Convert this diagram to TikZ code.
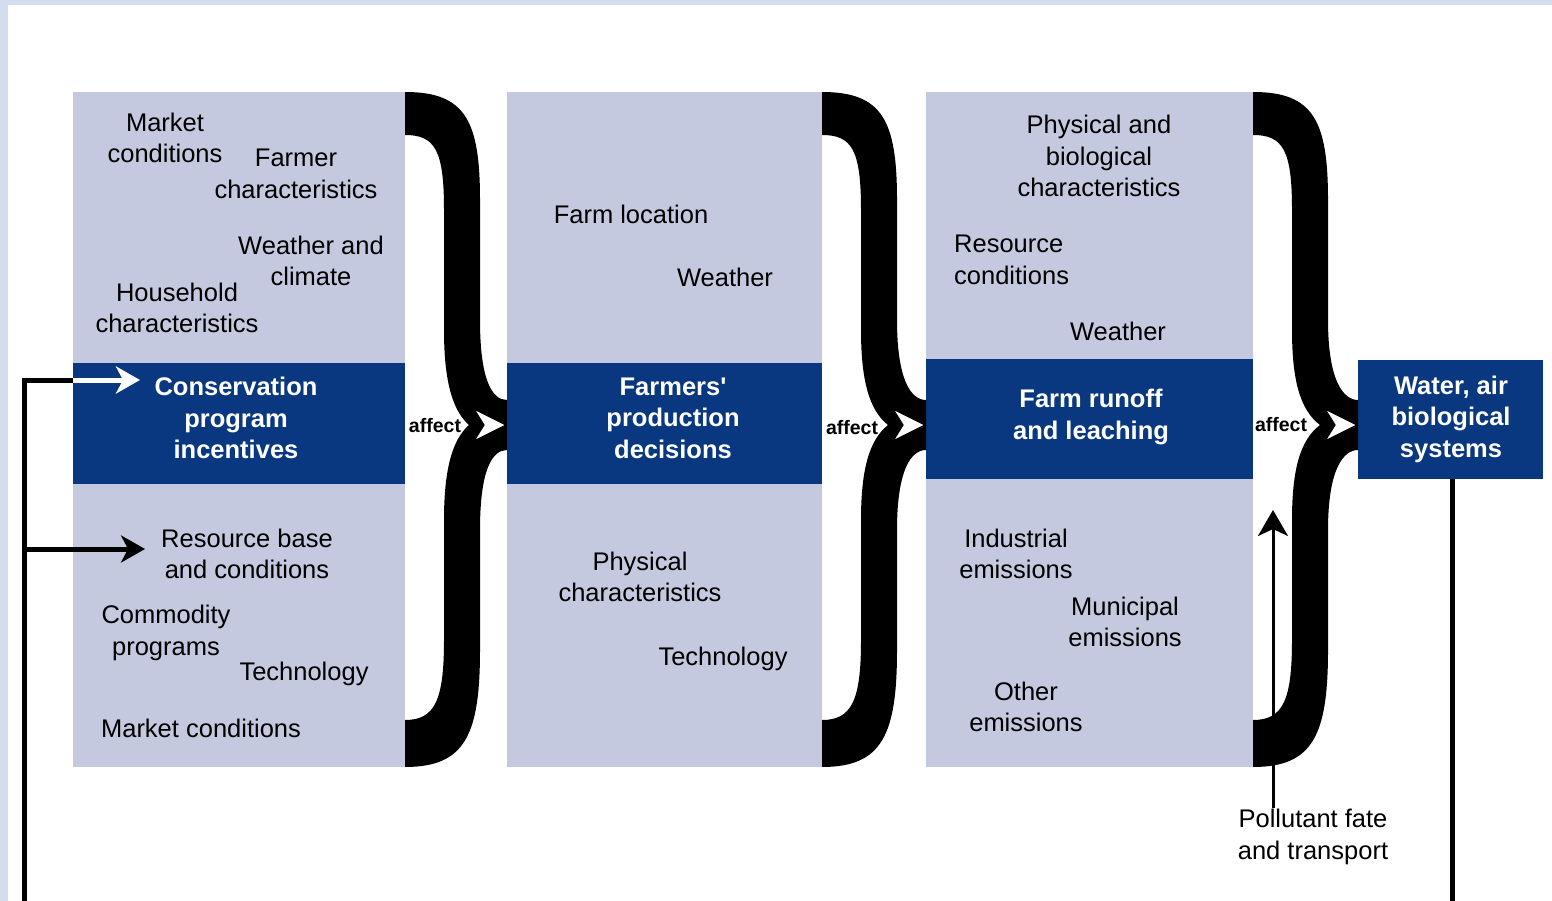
\documentclass[tikz,border=0pt]{standalone}
\usepackage{fontspec}
\setmainfont{Liberation Sans}
\newfontfamily\plainquote{Liberation Sans}[Ligatures=TeXOff]
\usepackage{tikz}
\usetikzlibrary{arrows.meta}
\definecolor{panelgray}{RGB}{196,201,223}
\definecolor{bandblue}{RGB}{10,56,128}
\definecolor{framebg}{RGB}{211,221,238}

\begin{document}
\begin{tikzpicture}[x=1pt,y=-1pt,
    panel/.style={fill=panelgray, inner sep=0pt, outer sep=0pt},
    band/.style={fill=bandblue, inner sep=0pt, outer sep=0pt},
    bandtxt/.style={text=white, align=center, inner sep=1pt,
                 font=\bfseries\fontsize{25.5}{31.5}\selectfont},
    lbl/.style={align=center, inner sep=1pt, font=\fontsize{25.5}{31.5}\selectfont},
    affectlbl/.style={inner sep=0pt, font=\bfseries\fontsize{19.5}{22}\selectfont},
    bracefill/.style={fill=black},
    tipwhite/.style={fill=white, draw=black, line width=1.2pt},
    fbline/.style={line width=5pt},
]
    \useasboundingbox (0,0) rectangle (1552,901);
    % Frame
    \fill[framebg] (0,0) rectangle (1552,901);
    \fill[white] (8,5) rectangle (1552,901);
    %
    % Panels
    \node[panel, minimum width=332pt, minimum height=675pt] (p1) at (239,429.5) {};
    \node[panel, minimum width=315pt, minimum height=675pt] (p2) at (664.5,429.5) {};
    \node[panel, minimum width=327pt, minimum height=675pt] (p3) at (1089.5,429.5) {};
    % Dark bands
    \node[band, minimum width=332pt, minimum height=121pt] (cons) at (239,423.5) {};
    \node[band, minimum width=315pt, minimum height=121pt] (dec) at (664.5,423.5) {};
    \node[band, minimum width=327pt, minimum height=120pt] (runoff) at (1089.5,419) {};
    \node[band, minimum width=185pt, minimum height=119pt] (water) at (1450.5,419.5) {};
    \node[bandtxt] (constxt) at (236,418) {Conservation\\program\\incentives};
    \node[bandtxt] (dectxt) at (673,418) {Farmers{\plainquote\bfseries '}\\production\\decisions};
    \node[bandtxt] (runofftxt) at (1091,417) {Farm runoff\\and leaching};
    \node[bandtxt] (watertxt) at (1451,419) {Water, air\\biological\\systems};
    %
    % Labels of the first panel
    \node[lbl] (mkt) at (165,138) {Market\\conditions};
    \node[lbl] (farmer) at (296,174) {Farmer\\characteristics};
    \node[lbl] (wclim) at (311,261) {Weather and\\climate};
    \node[lbl] (house) at (177,308) {Household\\characteristics};
    \node[lbl] (res) at (247,554) {Resource base\\and conditions};
    \node[lbl] (comm) at (166,633) {Commodity\\programs};
    \node[lbl] (tech1) at (304,674) {Technology};
    \node[lbl] (mktb) at (201,728) {Market conditions};
    % Labels of the second panel
    \node[lbl] (floc) at (631,214) {Farm location};
    \node[lbl] (wea2) at (725,277) {Weather};
    \node[lbl] (phys) at (640,577) {Physical\\characteristics};
    \node[lbl] (tech2) at (723,659) {Technology};
    % Labels of the third panel
    \node[lbl] (pbc) at (1099,156) {Physical and\\biological\\characteristics};
    \node[lbl, align=left, anchor=west] (rcond) at (953,260) {Resource\\conditions};
    \node[lbl] (wea3) at (1118,331) {Weather};
    \node[lbl] (ind) at (1016,554) {Industrial\\emissions};
    \node[lbl] (muni) at (1125,622) {Municipal\\emissions};
    \node[lbl] (other) at (1026,707) {Other\\emissions};
    \node[lbl] (poll) at (1313,837) {Pollutant fate\\and transport};
    %
    % Brace 1
    \fill[bracefill] (405,92) .. controls (465,92) and (480,120) .. (480,200) -- (480,320) .. controls (480,380) and (492,400) .. (507,400) -- (507,425) -- (469,425) .. controls (452,410) and (444,380) .. (444,330) -- (444,210) .. controls (444,150) and (435,135) .. (405,135) -- cycle
        (507,425) -- (507,450) .. controls (492,450) and (480,470) .. (480,530) -- (480,650) .. controls (480,735) and (465,767) .. (405,767) -- (405,720) .. controls (435,720) and (444,700) .. (444,640) -- (444,520) .. controls (444,470) and (452,440) .. (469,425) -- cycle;
    \filldraw[tipwhite] (506,425) -- (474,409) -- (484,425) -- (474,441) -- cycle;
    % Brace 2
    \fill[bracefill] (822,92) .. controls (882,92) and (897,120) .. (897,200) -- (897,320) .. controls (897,380) and (911,400) .. (926,400) -- (926,425) -- (888,425) .. controls (869,410) and (861,380) .. (861,330) -- (861,210) .. controls (861,150) and (852,135) .. (822,135) -- cycle
        (926,425) -- (926,450) .. controls (911,450) and (897,470) .. (897,530) -- (897,650) .. controls (897,735) and (882,767) .. (822,767) -- (822,720) .. controls (852,720) and (861,700) .. (861,640) -- (861,520) .. controls (861,470) and (869,440) .. (888,425) -- cycle;
    \filldraw[tipwhite] (925,425) -- (893,409) -- (903,425) -- (893,441) -- cycle;
    % Brace 3
    \fill[bracefill] (1253,92) .. controls (1313,92) and (1328,120) .. (1328,200) -- (1328,320) .. controls (1328,380) and (1343,400) .. (1358,400) -- (1358,425) -- (1320,425) .. controls (1300,410) and (1292,380) .. (1292,330) -- (1292,210) .. controls (1292,150) and (1283,135) .. (1253,135) -- cycle
        (1358,425) -- (1358,450) .. controls (1343,450) and (1328,470) .. (1328,530) -- (1328,650) .. controls (1328,735) and (1313,767) .. (1253,767) -- (1253,720) .. controls (1283,720) and (1292,700) .. (1292,640) -- (1292,520) .. controls (1292,470) and (1300,440) .. (1320,425) -- cycle;
    \filldraw[tipwhite] (1357,425) -- (1325,409) -- (1335,425) -- (1325,441) -- cycle;
    % affect labels
    \node[affectlbl] (aff1) at (435,426) {affect};
    \node[affectlbl] (aff2) at (852,428) {affect};
    \node[affectlbl] (aff3) at (1281,425) {affect};
    %
    % Feedback lines
    \coordinate (fbot) at (24,901);
    \coordinate (ftop) at (24,380);
    \coordinate (fmid) at (24,549);
    \coordinate (ctip) at (140,380);
    \draw[fbline] (fbot) -- (ftop) -- (cons.west |- ftop);
    \draw[fbline, white, -{Stealth[length=24pt,width=27pt,inset=7pt]}] (cons.west |- ftop) -- (ctip);
    \draw[fbline, shorten >=15pt, -{Stealth[length=24pt,width=27pt,inset=7pt]}] (fmid) -- (fmid -| res.west);
    \draw[fbline] (water.south -| 1452,0) -- (1452,901);
    % Pollutant arrow
    \coordinate (ptip) at (1273,510);
    \draw[line width=3pt, -{Stealth[length=26pt,width=30pt,inset=7pt]}] (ptip |- poll.north) -- (ptip);
\end{tikzpicture}
\end{document}
